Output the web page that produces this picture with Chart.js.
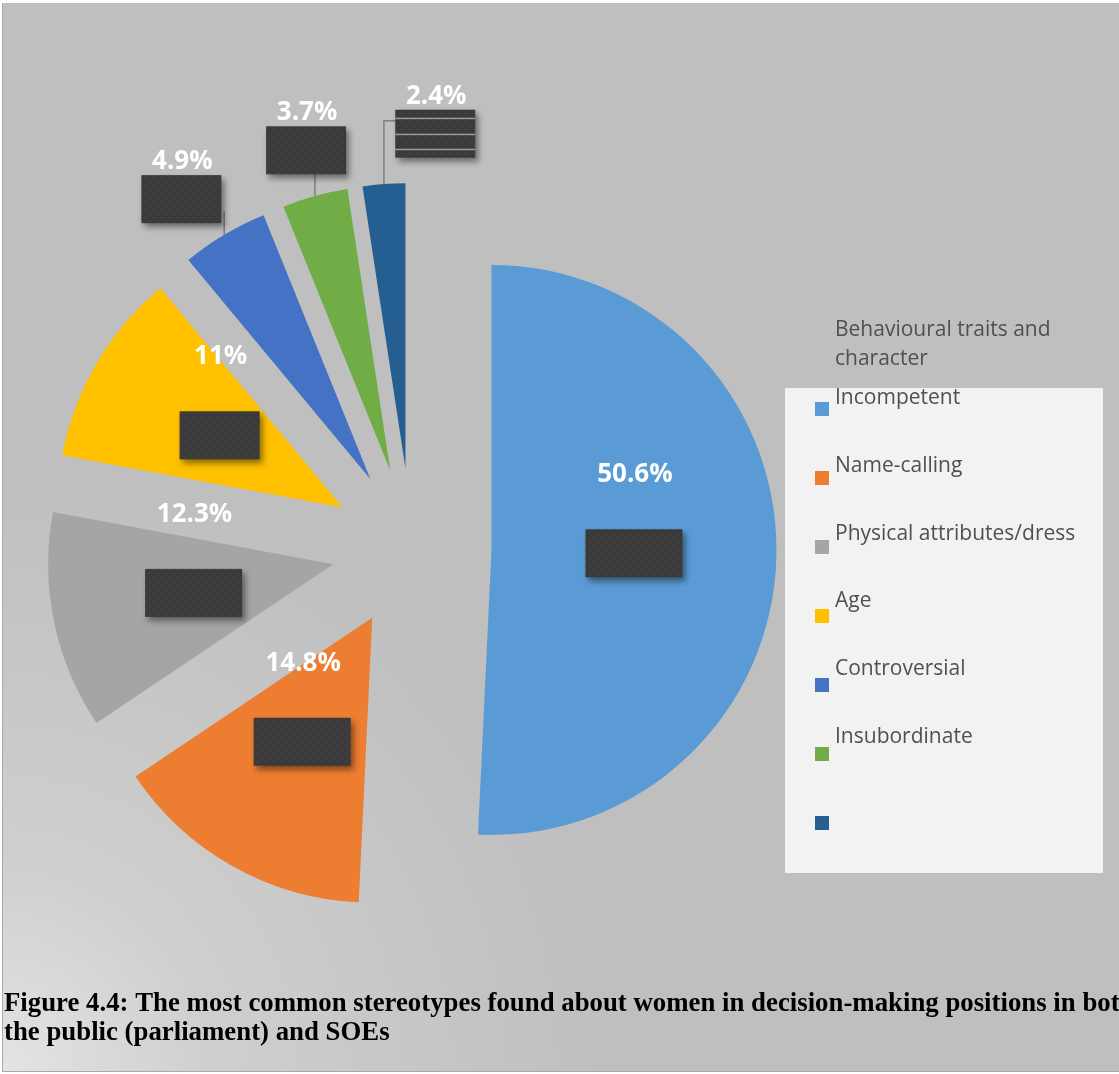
<!DOCTYPE html>
<html>
<head>
<meta charset="utf-8">
<title>Stereotypes about women in decision-making positions</title>
<style>
  html, body { margin: 0; padding: 0; background: #fff; }
  #wrap { width: 1119px; height: 1074px; position: relative; }
</style>
</head>
<body>
<div id="wrap"><canvas id="stereotypeChart" width="1119" height="1074"></canvas></div>
<script src="https://cdn.jsdelivr.net/npm/chart.js@4.4.0/dist/chart.umd.min.js"></script>
<script>
// stereotype categories and their share of mentions (%)
const categories = ['Incompetent', 'Name-calling', 'Physical attributes/dress', 'Age', 'Controversial', 'Insubordinate', ''];
const shares = [50.6, 14.8, 12.3, 11, 4.9, 3.7, 2.4];
const shareLabels = ['50.6%', '14.8%', '12.3%', '11%', '4.9%', '3.7%', '2.4%'];
const sliceColours = ['#5b9bd5', '#ed7d31', '#a5a5a5', '#ffc000', '#4472c4', '#70ad47', '#255e91'];
const legendTitle = ['Behavioural traits and', 'character'];
const captionLines = [
    'Figure 4.4: The most common stereotypes found about women in decision-making positions in both',
    'the public (parliament) and SOEs'
];

const EXPLODE = 80;      // every slice pulled out from the centre
const PIE_RADIUS = 285;
const labelFont = 'bold 26px "Open Sans"';
const legendFont = '21px "Open Sans"';
const textGrey = '#505050';
// nudges for the labels that sit outside the small slices
const outsideShift = {4: [-18, 6], 5: [4, 1], 6: [55, -2]};

// dotted dark fill used for the category boxes under the values
function makeBoxPattern(ctx) {
    const tile = document.createElement('canvas');
    tile.width = 8;
    tile.height = 8;
    const t = tile.getContext('2d');
    t.fillStyle = '#3a3a3a';
    t.fillRect(0, 0, 8, 8);
    t.fillStyle = '#4b4b4b';
    t.fillRect(1, 1, 2, 1);
    t.fillRect(5, 5, 2, 1);
    return ctx.createPattern(tile, 'repeat');
}

// pure translation of each arc along its mid angle (Chart.js offset also grows the radius)
const explodePlugin = {
    id: 'explode',
    afterDatasetUpdate(chart, args) {
        args.meta.data.forEach(arc => {
            const mid = (arc.startAngle + arc.endAngle) / 2;
            arc.x += Math.cos(mid) * EXPLODE;
            arc.y += Math.sin(mid) * EXPLODE;
        });
    }
};

const backgroundPlugin = {
    id: 'pageBackground',
    beforeDraw(chart) {
        const ctx = chart.ctx;
        const w = chart.width, h = chart.height;
        ctx.save();
        ctx.fillStyle = '#ffffff';
        ctx.fillRect(0, 0, w, h);
        const g = ctx.createRadialGradient(0, h, 0, 0, h, 600);
        g.addColorStop(0, '#e4e4e4');
        g.addColorStop(0.35, '#cfcfcf');
        g.addColorStop(1, '#bfbfbf');
        ctx.fillStyle = g;
        ctx.fillRect(2, 3, w - 2, h - 6);
        ctx.strokeStyle = '#a9a9a9';
        ctx.lineWidth = 1;
        ctx.beginPath();
        ctx.moveTo(2.5, 3);
        ctx.lineTo(2.5, h - 2.5);
        ctx.lineTo(w, h - 2.5);
        ctx.stroke();

        // legend panel
        ctx.fillStyle = '#f2f2f2';
        ctx.fillRect(785, 388, 318, 485);
        ctx.restore();
    }
};

const valueLabelPlugin = {
    id: 'valueLabels',
    afterDatasetsDraw(chart) {
        const ctx = chart.ctx;
        const arcs = chart.getDatasetMeta(0).data;
        const pattern = makeBoxPattern(ctx);

        arcs.forEach((arc, i) => {
            const mid = (arc.startAngle + arc.endAngle) / 2;
            const dx = Math.cos(mid), dy = Math.sin(mid);
            const inside = shares[i] >= 10;
            const boxW = shareLabels[i].length >= 5 ? 97 : 80;
            const boxH = 48;
            let cx, cy;
            if (inside) {
                const p = arc.tooltipPosition();
                cx = p.x;
                cy = p.y;
            } else {
                const s = outsideShift[i] || [0, 0];
                cx = arc.x + dx * PIE_RADIUS * 1.17 + s[0];
                cy = arc.y + dy * PIE_RADIUS * 1.17 + s[1];
            }
            const left = cx - boxW / 2, top = cy - boxH / 2;

            // leader line from the rim to the box
            if (!inside) {
                const ex = arc.x + dx * arc.outerRadius;
                const ey = arc.y + dy * arc.outerRadius;
                ctx.save();
                ctx.strokeStyle = '#7f7f7f';
                ctx.lineWidth = 1.5;
                ctx.beginPath();
                ctx.moveTo(ex, ey);
                if (ex >= left - 5 && ex <= left + boxW + 5) {
                    ctx.lineTo(ex, top + boxH - 12);
                } else {
                    ctx.lineTo(ex, top + 11);
                    ctx.lineTo(ex < left ? left : left + boxW, top + 11);
                }
                ctx.stroke();
                ctx.restore();
            }

            ctx.save();
            ctx.shadowColor = 'rgba(0,0,0,0.45)';
            ctx.shadowBlur = 6;
            ctx.shadowOffsetX = 3;
            ctx.shadowOffsetY = 4;
            ctx.fillStyle = pattern;
            ctx.fillRect(left, top, boxW, boxH);
            ctx.restore();
            if (i === 6) {
                ctx.save();
                ctx.fillStyle = '#9a9a9a';
                [8, 24, 39].forEach(o => ctx.fillRect(left, top + o, boxW, 1.5));
                ctx.restore();
            }

            ctx.save();
            ctx.font = labelFont;
            ctx.fillStyle = '#ffffff';
            ctx.textAlign = 'center';
            ctx.textBaseline = 'alphabetic';
            const baseY = inside ? cy - 71 : top - 6;
            ctx.fillText(shareLabels[i], cx + 1, baseY);
            ctx.restore();
        });
    }
};

const legendPlugin = {
    id: 'sideLegend',
    afterDraw(chart) {
        const ctx = chart.ctx;
        ctx.save();
        ctx.font = legendFont;
        ctx.fillStyle = textGrey;
        ctx.textBaseline = 'alphabetic';
        legendTitle.forEach((line, k) => ctx.fillText(line, 835, 336 + k * 28.5));
        categories.forEach((name, i) => {
            ctx.fillStyle = sliceColours[i];
            ctx.fillRect(815, 402 + i * 69, 14, 14);
            ctx.fillStyle = textGrey;
            ctx.fillText(name, 835, 404 + i * 67.8);
        });

        // figure caption
        ctx.font = 'bold 26.8px "Liberation Serif"';
        ctx.fillStyle = '#000000';
        captionLines.forEach((line, k) => ctx.fillText(line, 4, 1011 + k * 29));
        ctx.restore();
    }
};

new Chart(document.getElementById('stereotypeChart'), {
    type: 'pie',
    data: {
        labels: categories,
        datasets: [{
            data: shares,
            backgroundColor: sliceColours,
            borderWidth: 0,
            radius: PIE_RADIUS,
            clip: false
        }]
    },
    options: {
        responsive: false,
        animation: false,
        layout: {padding: {left: 0, right: 296, top: 22, bottom: 0}},
        plugins: {
            legend: {display: false},
            tooltip: {enabled: false}
        }
    },
    plugins: [explodePlugin, backgroundPlugin, valueLabelPlugin, legendPlugin]
});
</script>
</body>
</html>
